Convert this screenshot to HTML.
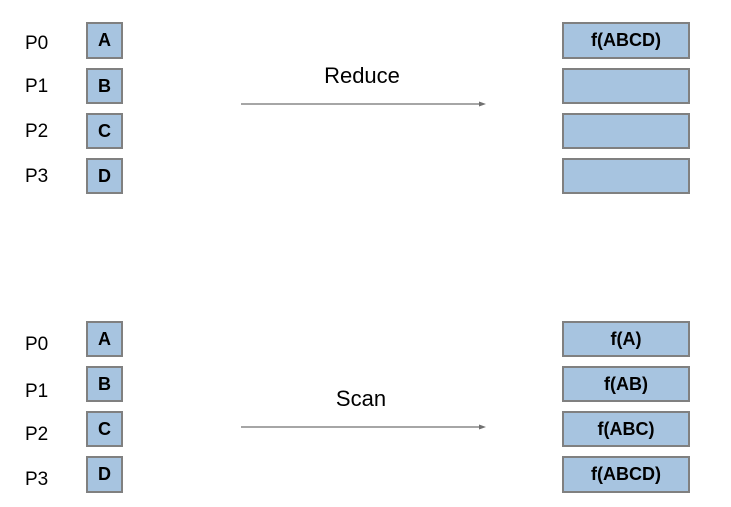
<!DOCTYPE html>
<html><head><meta charset="utf-8"><style>
body{margin:0;width:731px;height:507px;background:#fff;position:relative;overflow:hidden;font-family:"Liberation Sans",sans-serif;}
.p{position:absolute;font-size:19px;color:#000;left:25px;transform:translateY(-50%);}
.b{position:absolute;box-sizing:border-box;background:#a7c4e0;border:2px solid #808080;display:flex;align-items:center;justify-content:center;font-weight:bold;font-size:18px;color:#000;}
.l{left:86px;width:37px;}
.r{left:562px;width:128px;}
.t{position:absolute;font-size:22px;transform:translateX(-50%);}
</style></head><body>
<div class="p" style="top:44px">P0</div>
<div class="p" style="top:87px">P1</div>
<div class="p" style="top:132px">P2</div>
<div class="p" style="top:177px">P3</div>
<div class="b l" style="top:22px;height:37px">A</div>
<div class="b l" style="top:68px;height:36px">B</div>
<div class="b l" style="top:113px;height:36px">C</div>
<div class="b l" style="top:158px;height:36px">D</div>
<div class="b r" style="top:22px;height:37px">f(ABCD)</div>
<div class="b r" style="top:68px;height:36px"></div>
<div class="b r" style="top:113px;height:36px"></div>
<div class="b r" style="top:158px;height:36px"></div>
<div class="t" style="left:362px;top:63px">Reduce</div>

<div class="p" style="top:345px">P0</div>
<div class="p" style="top:392px">P1</div>
<div class="p" style="top:435px">P2</div>
<div class="p" style="top:480px">P3</div>
<div class="b l" style="top:321px;height:36px">A</div>
<div class="b l" style="top:366px;height:36px">B</div>
<div class="b l" style="top:411px;height:36px">C</div>
<div class="b l" style="top:456px;height:37px">D</div>
<div class="b r" style="top:321px;height:36px">f(A)</div>
<div class="b r" style="top:366px;height:36px">f(AB)</div>
<div class="b r" style="top:411px;height:36px">f(ABC)</div>
<div class="b r" style="top:456px;height:37px">f(ABCD)</div>
<div class="t" style="left:361px;top:386px">Scan</div>

<svg width="731" height="507" style="position:absolute;left:0;top:0">
<g>
<line x1="241" y1="104" x2="480" y2="104" stroke="#707070" stroke-width="1.3"/>
<polygon points="486,104 479,101.5 479,106.5" fill="#707070"/>
</g>
<g>
<line x1="241" y1="427" x2="480" y2="427" stroke="#707070" stroke-width="1.3"/>
<polygon points="486,427 479,424.5 479,429.5" fill="#707070"/>
</g>
</svg>
</body></html>
